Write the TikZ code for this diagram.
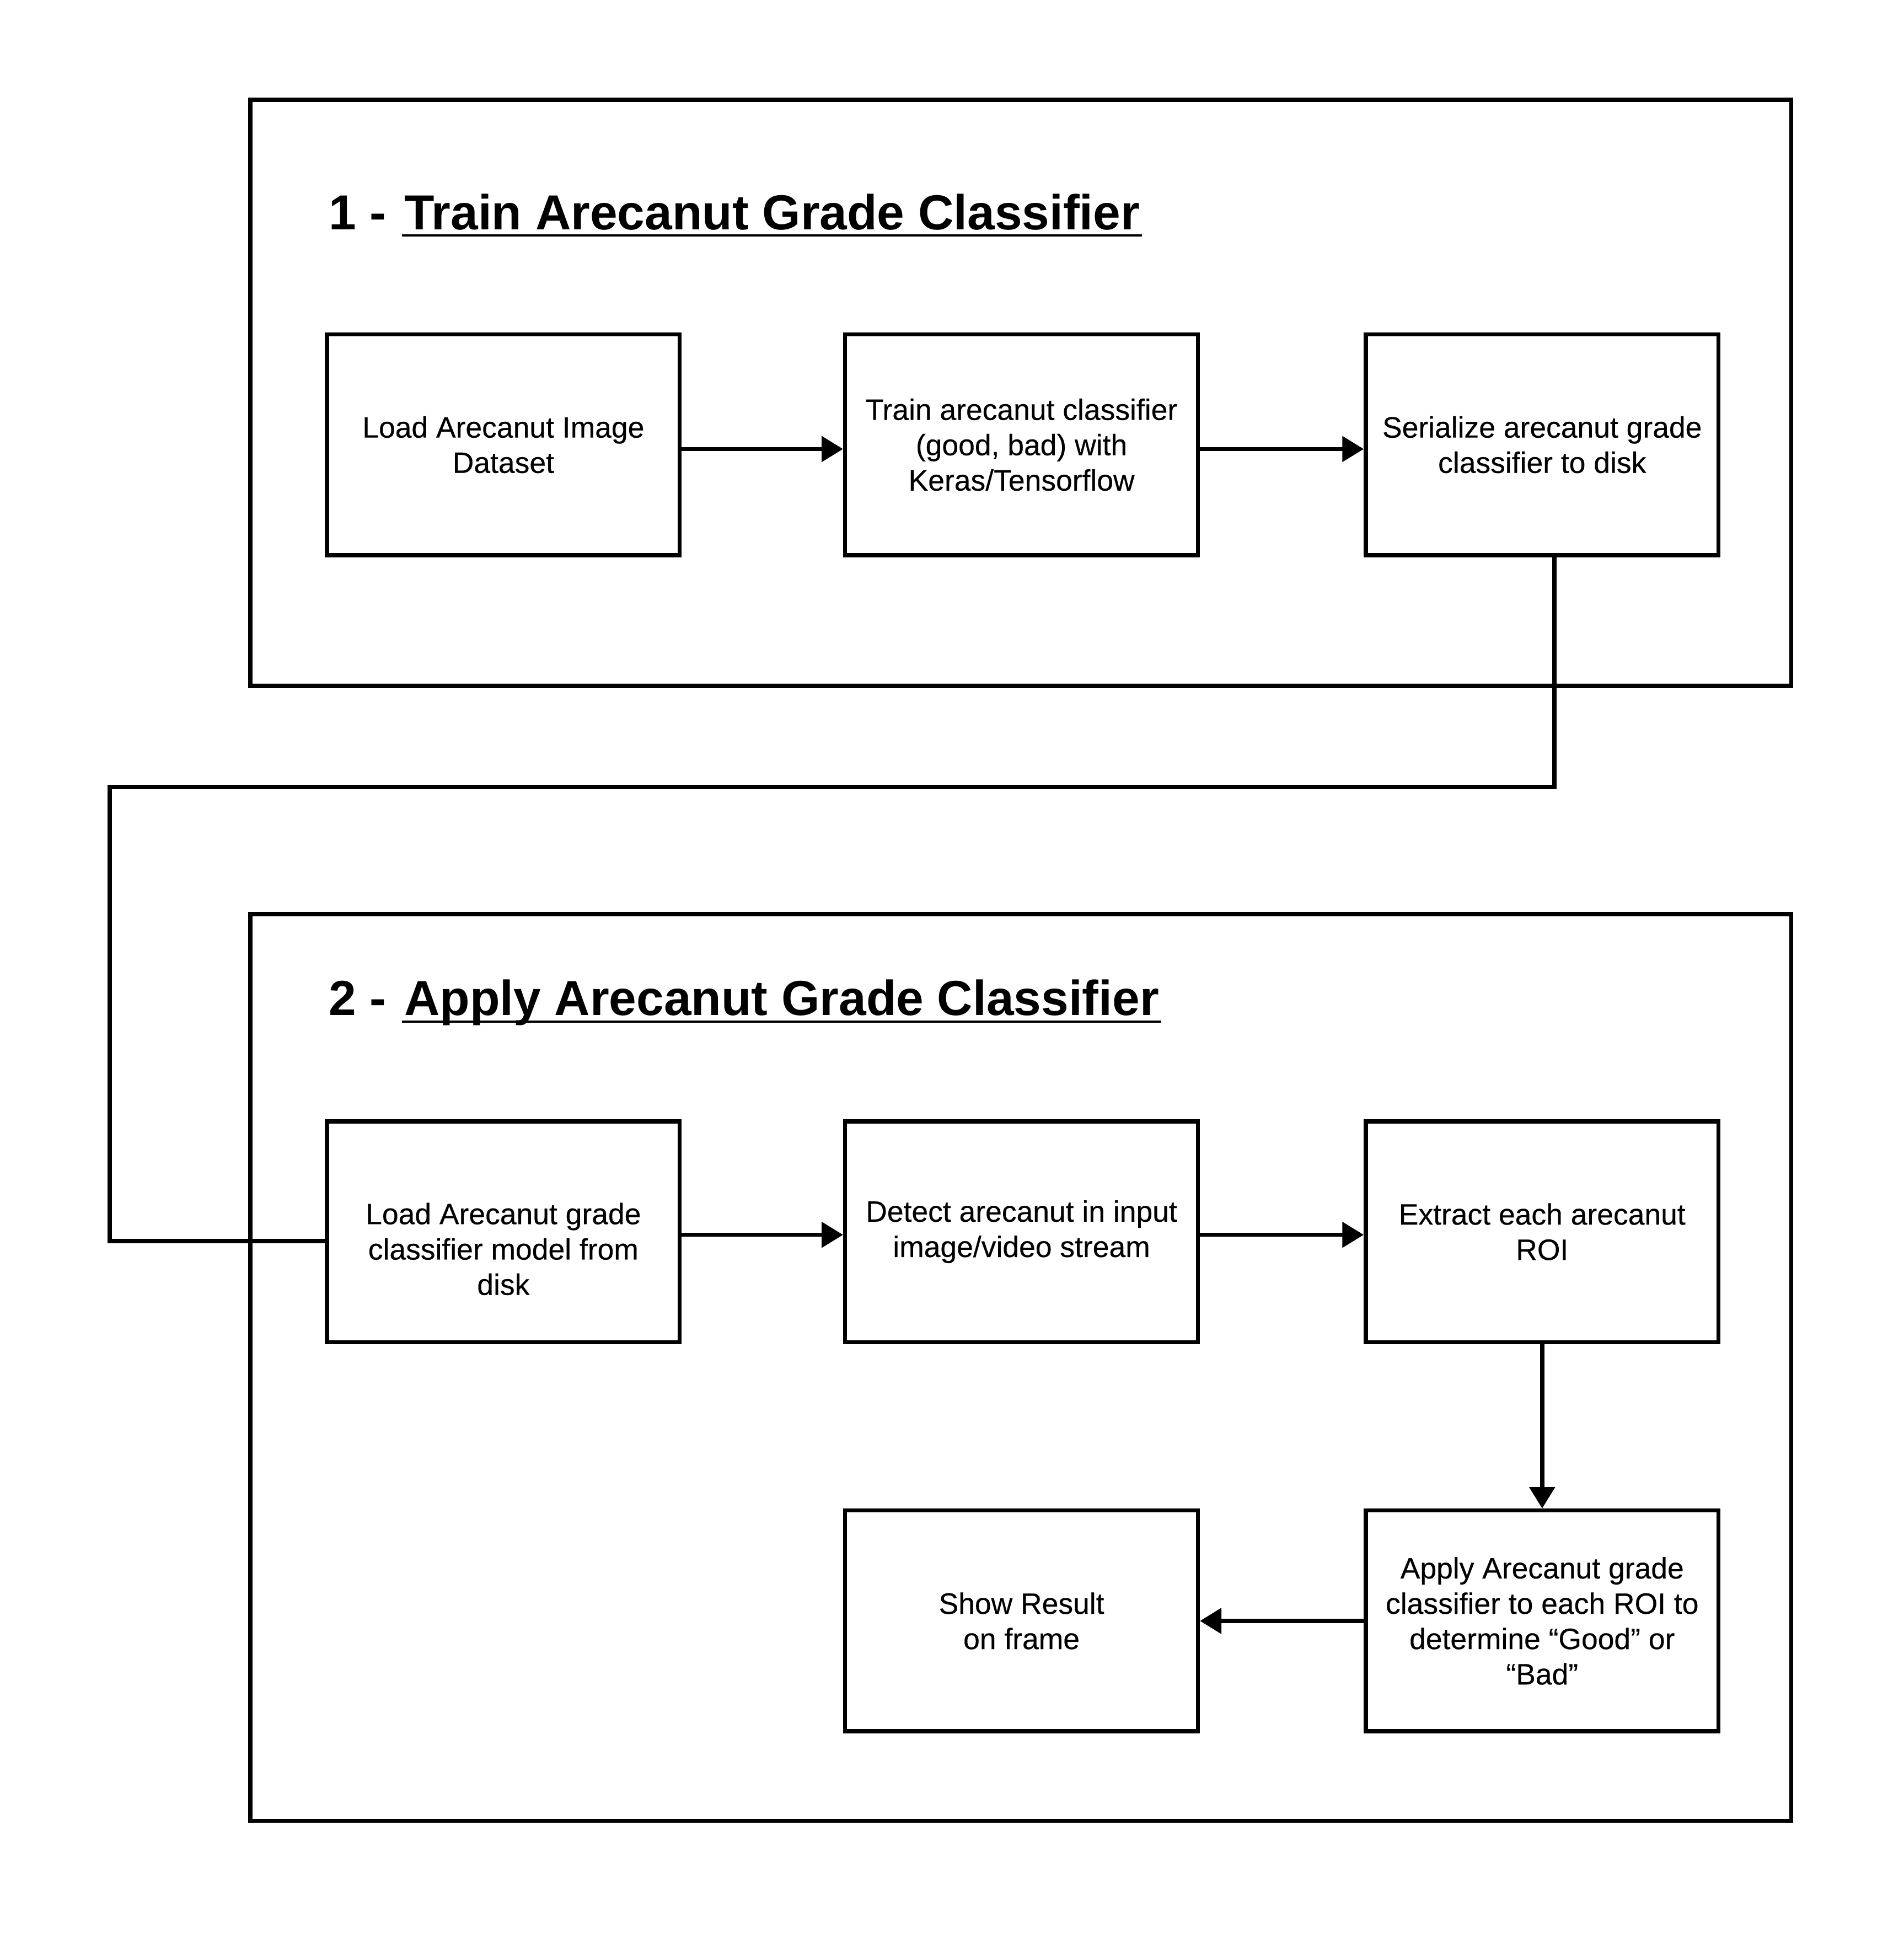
\documentclass[tikz,border=0pt]{standalone}
\usepackage{fontspec}
\setmainfont{Liberation Sans}
\newfontfamily\stagefont{Liberation Sans}[FakeBold=0.3]
\usetikzlibrary{arrows.meta}

\begin{document}
\begin{tikzpicture}[x=0.02cm, y=-0.02cm, line width=1.9pt,
  stagetext/.style={align=center, font=\stagefont\fontsize{13.6pt}{16.3pt}\selectfont},
  stage/.style={draw, minimum width=5.72cm, minimum height=3.58cm, inner sep=0pt, stagetext},
  heading/.style={anchor=base west, inner sep=0pt, font=\fontsize{22.7pt}{27pt}\selectfont\bfseries},
  flow/.style={-{Triangle[length=9.9pt,width=11.6pt]}},
  underline/.style={line width=1pt}]
\useasboundingbox (0,0) rectangle (1543,1567);
\draw (203,81) rectangle (1452,556);
\draw (203,741) rectangle (1452,1476);

\node[heading] (num1) at (265,186) {1 -};
\node[heading] (title1) at (326,186) {Train Arecanut Grade Classifier};
\draw[underline] ([yshift=-0.1cm]title1.base west) -- ([yshift=-0.1cm]title1.base east);
\node[heading] (num2) at (265,823) {2 -};
\node[heading] (title2) at (326,823) {Apply Arecanut Grade Classifier};
\draw[underline] ([yshift=-0.1cm]title2.base west) -- ([yshift=-0.1cm]title2.base east);

\node[stage] (loaddata) at (408,360.5) {Load Arecanut Image\\Dataset};
\node[stage] (train) at (828,360.5) {Train arecanut classifier\\(good, bad) with\\Keras/Tensorflow};
\node[stage] (serialize) at (1250,360.5) {Serialize arecanut grade\\classifier to disk};
\node[stage, label={[stagetext, yshift=-0.28cm]center:Load Arecanut grade\\classifier model from\\disk}] (loadmodel) at (408,998.5) {};
\node[stage] (detect) at (828,998.5) {Detect arecanut in input\\image/video stream};
\node[stage] (extract) at (1250,998.5) {Extract each arecanut\\ROI};
\node[stage] (apply) at (1250,1314) {Apply Arecanut grade\\classifier to each ROI to\\determine “Good” or\\“Bad”};
\node[stage] (show) at (828,1314) {Show Result\\on frame};

\draw[flow] ([yshift=-0.07cm]loaddata.east) -- ([yshift=-0.07cm]train.west);
\draw[flow] ([yshift=-0.07cm]train.east) -- ([yshift=-0.07cm]serialize.west);
\draw[flow] ([yshift=-0.05cm]loadmodel.east) -- ([yshift=-0.05cm]detect.west);
\draw[flow] ([yshift=-0.05cm]detect.east) -- ([yshift=-0.05cm]extract.west);
\draw[flow] (extract) -- (apply);
\draw[flow] (apply) -- (show);

\coordinate (bend) at (89,638);
\draw ([xshift=0.2cm]serialize.south) |- (bend) |- ([yshift=-0.15cm]loadmodel.west);
\end{tikzpicture}
\end{document}
